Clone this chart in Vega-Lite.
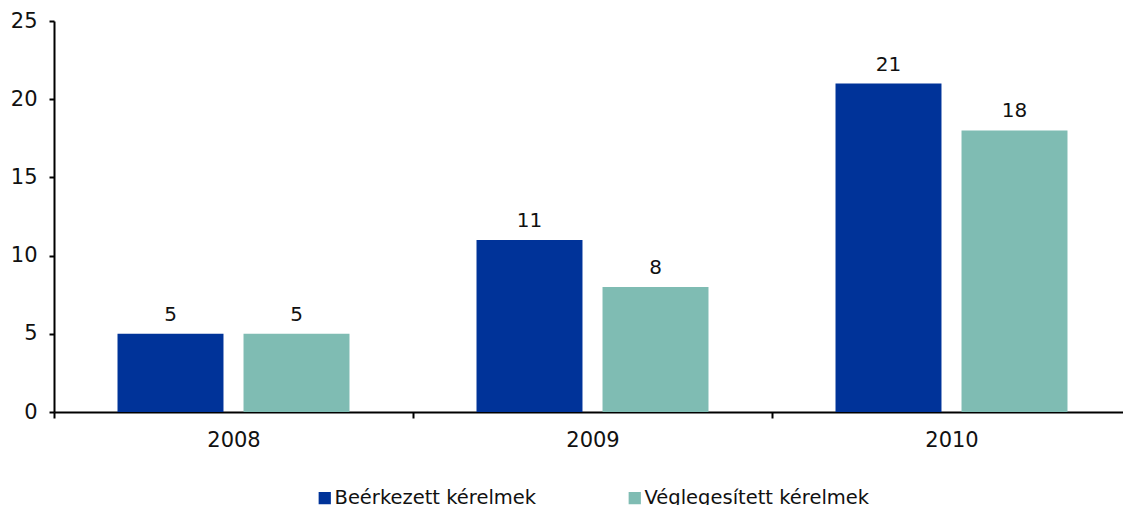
{
  "$schema": "https://vega.github.io/schema/vega-lite/v6.json",
  "autosize": "none",
  "width": 1068,
  "height": 391,
  "padding": {"left": 54, "top": 21, "right": 1, "bottom": 93},
  "background": "white",
  "config": {
    "view": {"stroke": null},
    "font": "DejaVu Sans"
  },
  "data": {
    "values": [
      {"year": "2008", "series": "Beérkezett kérelmek", "value": 5},
      {"year": "2008", "series": "Véglegesített kérelmek", "value": 5},
      {"year": "2009", "series": "Beérkezett kérelmek", "value": 11},
      {"year": "2009", "series": "Véglegesített kérelmek", "value": 8},
      {"year": "2010", "series": "Beérkezett kérelmek", "value": 21},
      {"year": "2010", "series": "Véglegesített kérelmek", "value": 18}
    ]
  },
  "encoding": {
    "x": {
      "field": "year", "type": "nominal",
      "scale": {"paddingInner": 0, "paddingOuter": 0, "range": [0, 1077]},
      "axis": {
        "title": null, "labelAngle": 0, "tickBand": "extent",
        "domainColor": "black", "domainWidth": 2, "tickColor": "black", "tickWidth": 2, "tickSize": 6,
        "labelFontSize": 21, "labelColor": "#111", "labelPadding": 11, "grid": false
      }
    },
    "xOffset": {
      "field": "series", "type": "nominal",
      "scale": {"paddingInner": 0.159, "paddingOuter": 0.504}
    },
    "y": {
      "field": "value", "type": "quantitative",
      "scale": {"domain": [0, 25], "nice": false},
      "axis": {
        "title": null, "values": [0, 5, 10, 15, 20, 25], "grid": false,
        "domainColor": "black", "domainWidth": 2, "tickColor": "black", "tickWidth": 2, "tickSize": 5,
        "labelFontSize": 21, "labelColor": "#111", "labelPadding": 12
      }
    }
  },
  "layer": [
    {
      "mark": {"type": "bar"},
      "encoding": {
        "color": {
          "field": "series", "type": "nominal",
          "scale": {"domain": ["Beérkezett kérelmek", "Véglegesített kérelmek"], "range": ["#003399", "#7FBCB3"]},
          "legend": {
            "title": null, "orient": "none", "direction": "horizontal",
            "legendX": 261, "legendY": 467,
            "symbolType": "square", "symbolSize": 150, "symbolStrokeWidth": 0,
            "labelFontSize": 19.5, "labelColor": "#111", "columnPadding": 88, "labelOffset": 0, "labelLimit": 400
          }
        }
      }
    },
    {
      "mark": {"type": "text", "dy": -13, "baseline": "alphabetic", "fontSize": 20, "color": "#111"},
      "encoding": {
        "text": {"field": "value", "type": "quantitative"}
      }
    }
  ]
}
